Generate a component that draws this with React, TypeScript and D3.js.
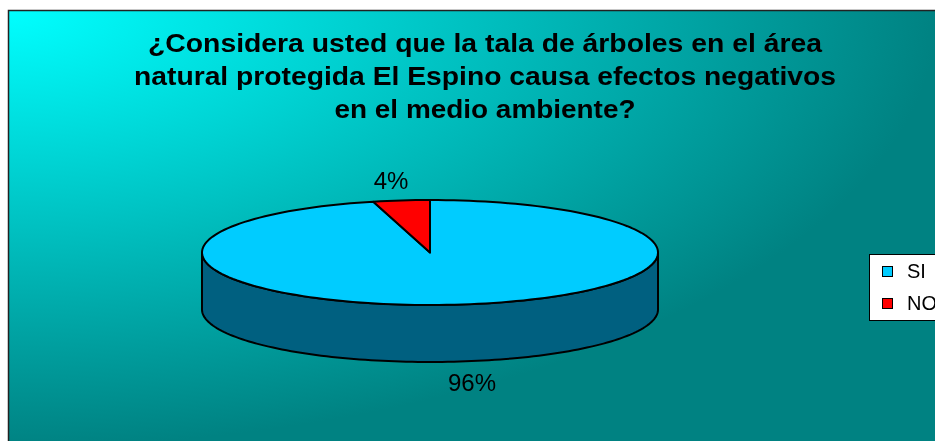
import React from "react";
import * as d3 from "d3";

const titleLines = [
  "¿Considera usted que la tala de árboles en el área",
  "natural protegida El Espino causa efectos negativos",
  "en el medio ambiente?",
];
const titleWidths = [674, 702, 301];
const categories = ["SI", "NO"];
const values = [96, 4];
const labels = ["96%", "4%"];
const topColors = ["#00CCFF", "#FF0000"];
const sideColors = ["#006080", "#800000"];

const W = 935;
const H = 441;
const FONT = "'Liberation Sans', Arial, Helvetica, sans-serif";

export default function App() {
  const cx = 430;
  const cy = 252.5;
  const rx = 228;
  const ry = 52.5;
  const depth = 57;

  const pie = d3
    .pie<number>()
    .sort(null)
    .startAngle(0)
    .endAngle(2 * Math.PI);
  const arcs = pie(values);

  const pt = (a: number, dy = 0): [number, number] => [
    cx + rx * Math.sin(a),
    cy - ry * Math.cos(a) + dy,
  ];

  const slicePath = (a0: number, a1: number) => {
    const p = d3.path();
    p.moveTo(cx, cy);
    const n = Math.max(4, Math.ceil(((a1 - a0) / (2 * Math.PI)) * 180));
    for (let i = 0; i <= n; i++) {
      const a = a0 + ((a1 - a0) * i) / n;
      const [x, y] = pt(a);
      p.lineTo(x, y);
    }
    p.closePath();
    return p.toString();
  };

  const sidePath = (a0: number, a1: number) => {
    const s = Math.max(a0, Math.PI / 2);
    const e = Math.min(a1, (3 * Math.PI) / 2);
    if (e <= s) return null;
    const n = 120;
    const p = d3.path();
    for (let i = 0; i <= n; i++) {
      const a = s + ((e - s) * i) / n;
      const [x, y] = pt(a);
      if (i === 0) p.moveTo(x, y);
      else p.lineTo(x, y);
    }
    for (let i = n; i >= 0; i--) {
      const a = s + ((e - s) * i) / n;
      const [x, y] = pt(a, depth);
      p.lineTo(x, y);
    }
    p.closePath();
    return p.toString();
  };

  const labelPos = [
    { x: 472, y: 391 },
    { x: 391, y: 189 },
  ];

  return (
    <svg
      width={W}
      height={H}
      style={{ display: "block", position: "fixed", left: 0, top: 0 }}
      xmlns="http://www.w3.org/2000/svg"
    >
      <defs>
        <radialGradient
          id="bg"
          gradientUnits="userSpaceOnUse"
          cx={8}
          cy={10}
          r={930}
          gradientTransform="translate(8,10) scale(1,0.47) translate(-8,-10)"
        >
          <stop offset="0%" stopColor="#00FFFF" />
          <stop offset="100%" stopColor="#008282" />
        </radialGradient>
      </defs>
      <rect
        x={8.5}
        y={10.5}
        width={W + 20}
        height={H + 20}
        fill="url(#bg)"
        stroke="#222"
        strokeWidth={1.5}
      />
      {titleLines.map((t, i) => (
        <text
          key={i}
          x={485}
          y={52 + i * 33}
          textAnchor="middle"
          fontFamily={FONT}
          fontWeight="bold"
          fontSize={25}
          textLength={titleWidths[i]}
          lengthAdjust="spacingAndGlyphs"
          fill="#000"
        >
          {t}
        </text>
      ))}
      {arcs.map((a, i) => {
        const d = sidePath(a.startAngle, a.endAngle);
        return d ? (
          <path
            key={"s" + i}
            d={d}
            fill={sideColors[i]}
            stroke="#000"
            strokeWidth={2}
            strokeLinejoin="round"
          />
        ) : null;
      })}
      {arcs.map((a, i) => (
        <path
          key={"t" + i}
          d={slicePath(a.startAngle, a.endAngle)}
          fill={topColors[i]}
          stroke="#000"
          strokeWidth={2}
          strokeLinejoin="round"
        />
      ))}
      {labels.map((l, i) => (
        <text
          key={"l" + i}
          x={labelPos[i].x}
          y={labelPos[i].y}
          textAnchor="middle"
          fontFamily={FONT}
          fontSize={24}
          fill="#000"
        >
          {l}
        </text>
      ))}
      <g>
        <rect
          x={869.5}
          y={254.5}
          width={100}
          height={66}
          fill="#fff"
          stroke="#000"
          strokeWidth={1}
        />
        {categories.map((c, i) => (
          <g key={c}>
            <rect
              x={882.5}
              y={266.5 + i * 32}
              width={10}
              height={10}
              fill={topColors[i]}
              stroke="#000"
              strokeWidth={1}
            />
            <text
              x={907}
              y={278 + i * 32}
              fontFamily={FONT}
              fontSize={20}
              fill="#000"
            >
              {c}
            </text>
          </g>
        ))}
      </g>
    </svg>
  );
}
